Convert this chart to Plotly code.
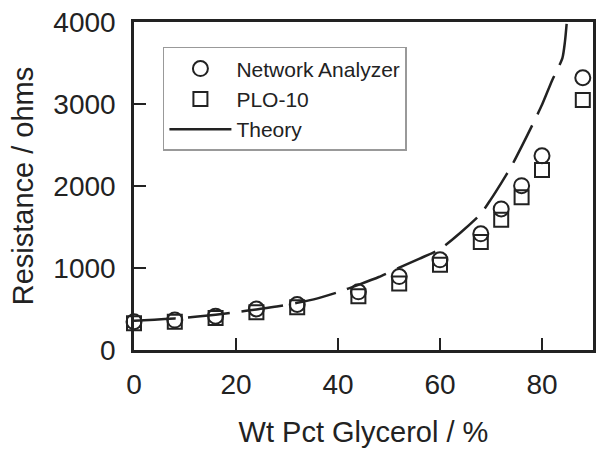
import plotly.graph_objects as go

# Measured data
wt_pct = [0, 8, 16, 24, 32, 44, 52, 60, 68, 72, 76, 80, 88]
network_analyzer = [345, 365, 413, 500, 555, 710, 895, 1100, 1417, 1720, 2004, 2368, 3320]
plo10 = [325, 344, 390, 460, 522, 656, 810, 1040, 1316, 1587, 1862, 2194, 3049]

theory_x = [0, 4, 8, 12, 16, 20, 24, 28, 32, 36, 40, 44, 48, 52, 56, 60, 64, 68,
            70, 72, 74, 76, 78, 80, 82, 84, 84.5, 85, 85.5]
theory_y = [356, 370, 385, 405, 430, 460, 495, 530, 575, 630, 705, 795, 890, 1005,
            1115, 1230, 1430, 1660, 1840, 2036, 2240, 2480, 2730, 2990, 3290,
            3560, 3760, 4100, 4500]

x_ticks = [0, 20, 40, 60, 80]
y_ticks = [0, 1000, 2000, 3000, 4000]

FONT = "Liberation Sans, Arial, sans-serif"
INK = "#222222"

fig = go.Figure()
fig.add_trace(go.Scatter(
    x=wt_pct, y=network_analyzer, mode="markers", name="Network Analyzer",
    marker=dict(symbol="circle-open", size=15, color=INK, line=dict(width=2, color=INK)),
    cliponaxis=False,
))
fig.add_trace(go.Scatter(
    x=wt_pct, y=plo10, mode="markers", name="PLO-10",
    marker=dict(symbol="square-open", size=14, color=INK, line=dict(width=2, color=INK)),
    cliponaxis=False,
))
fig.add_trace(go.Scatter(
    x=theory_x, y=theory_y, mode="lines", name="Theory", showlegend=False,
    line=dict(color=INK, width=2.5, dash="42px,12px", shape="spline", smoothing=0.6),
))
# legend entry for the theory curve (drawn solid, as in the original key)
fig.add_trace(go.Scatter(
    x=[None], y=[None], mode="lines", name="Theory",
    line=dict(color=INK, width=2.5),
))

fig.update_layout(
    width=596, height=449,
    margin=dict(l=134, r=3, t=22, b=99, autoexpand=False),
    paper_bgcolor="white", plot_bgcolor="white",
    font=dict(family=FONT, color=INK),
    showlegend=True,
    legend=dict(
        x=0.063, y=0.924, xanchor="left", yanchor="top",
        bordercolor="#999999", borderwidth=1.5, bgcolor="white",
        font=dict(family=FONT, size=21, color=INK),
        itemwidth=62, tracegroupgap=0,
    ),
    xaxis=dict(
        range=[0, 90], tickvals=x_ticks, ticktext=[str(v) for v in x_ticks],
        ticks="inside", ticklen=12, tickwidth=2, tickcolor=INK,
        showline=True, linewidth=2.5, linecolor=INK, mirror=True,
        showgrid=False, zeroline=False, automargin=False,
        ticklabelstandoff=8,
        tickfont=dict(size=28, family=FONT, color=INK),
        title=dict(text="Wt Pct Glycerol / %", font=dict(size=29, family=FONT, color=INK), standoff=23),
    ),
    yaxis=dict(
        range=[0, 4000], tickvals=y_ticks, ticktext=[str(v) for v in y_ticks],
        ticks="inside", ticklen=12, tickwidth=2, tickcolor=INK,
        showline=True, linewidth=2.5, linecolor=INK, mirror=True,
        showgrid=False, zeroline=False, automargin=False,
        ticklabelstandoff=10,
        tickfont=dict(size=28, family=FONT, color=INK),
        title=dict(text="Resistance / ohms", font=dict(size=29, family=FONT, color=INK), standoff=12),
    ),
)

fig.write_html("out.html", config={"displayModeBar": False},
               post_script="document.body.style.margin='0';")
